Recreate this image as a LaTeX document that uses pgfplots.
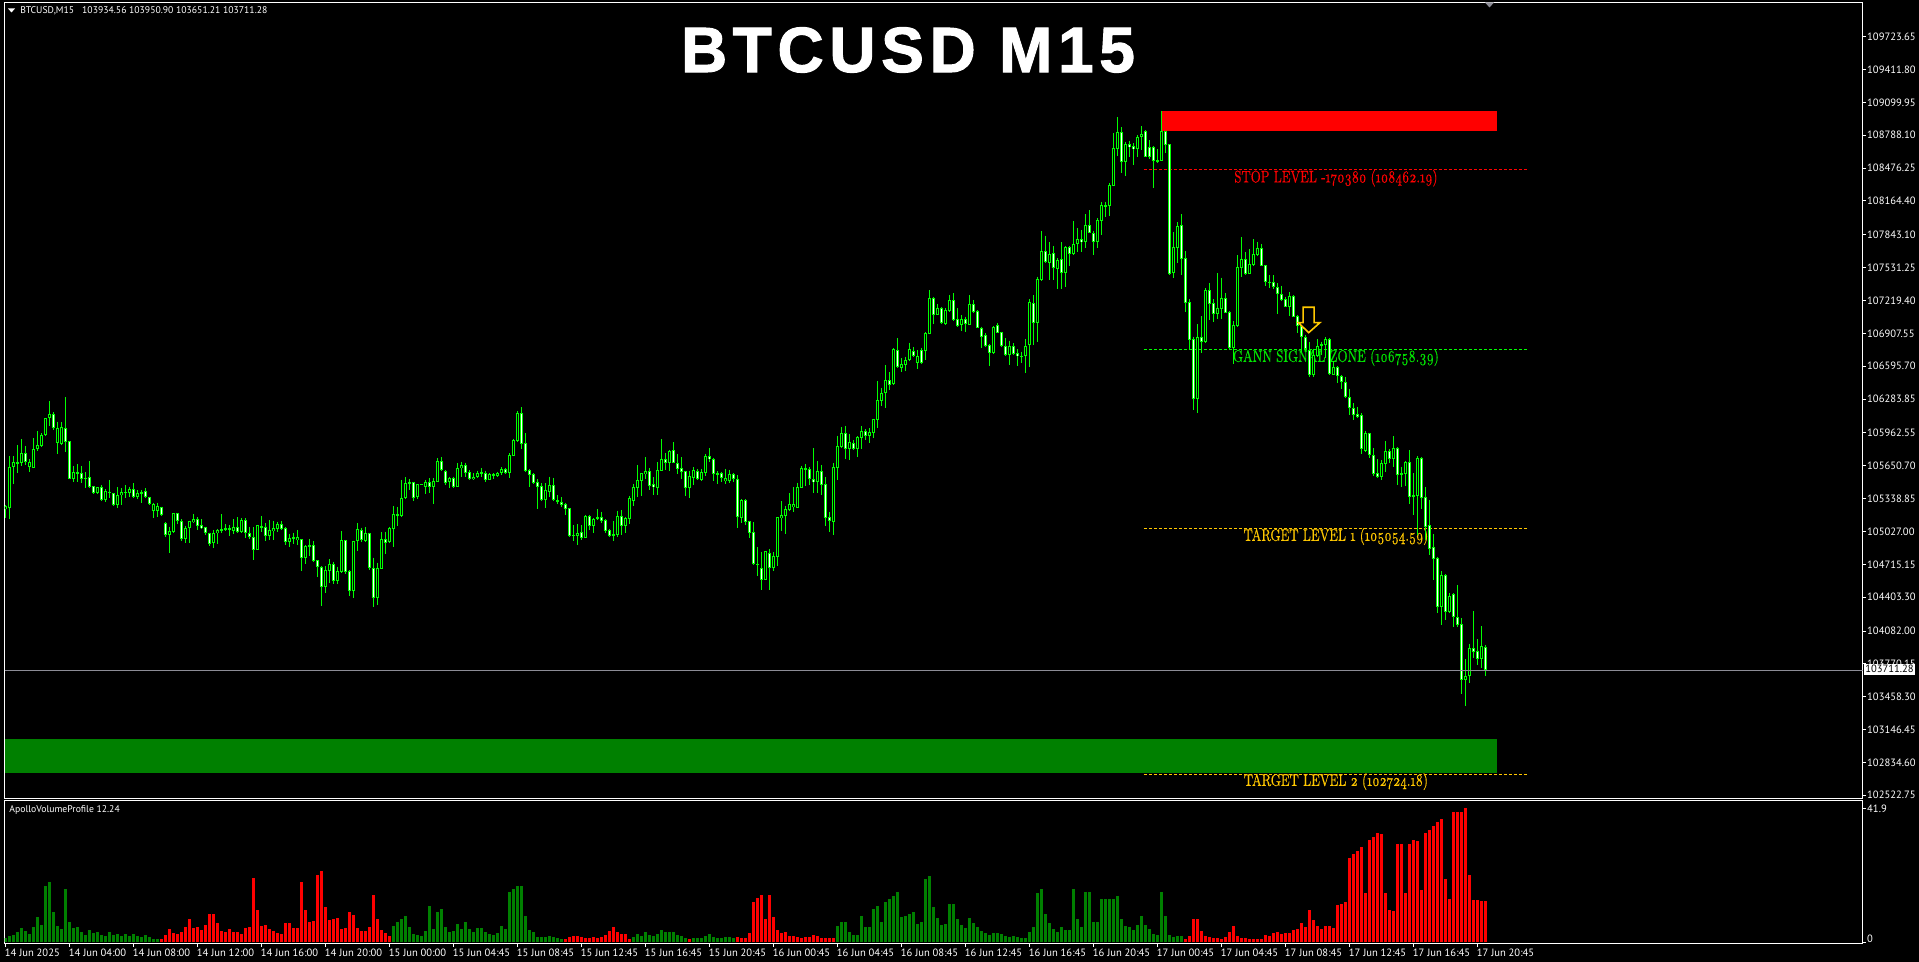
\documentclass[border=0pt]{standalone}
\usepackage{pgfplots}
\usepackage{pgfplotstable}
\usepackage{fontspec}
\pgfplotsset{compat=1.18}
\setmainfont{PT Sans}
\newfontfamily\titlefont[LetterSpace=8.8,FakeBold=1.6]{Liberation Sans Bold}
\newfontfamily\levelfont[Numbers=OldStyle,FakeStretch=0.72,FakeBold=0.3]{Latin Modern Roman}
\definecolor{candle}{HTML}{00FF00}
\definecolor{gold}{HTML}{FFC800}
\definecolor{volgreen}{HTML}{008000}
\definecolor{lastline}{HTML}{8C8C96}

% one image pixel is 0.5pt, y counted from the top of the page
\newcommand{\px}[2]{({(#1)*0.5pt},{(962-(#2))*0.5pt})}

\pgfplotstableread{
i o h l c
0 105241 105278 105158 105269
1 105247 105744 105146 105642
2 105642 105744 105481 105690
3 105674 105848 105585 105690
4 105674 105902 105649 105769
5 105769 105839 105658 105690
6 105636 105712 105595 105690
7 105633 105911 105633 105807
8 105807 105981 105794 105845
9 105842 105959 105832 105943
10 105940 106101 105937 106101
11 106101 106263 106028 106139
12 106139 106158 105990 106013
13 105864 106069 105763 106013
14 105858 106063 105848 106016
15 106006 106300 105785 105880
16 105883 105883 105522 105528
17 105528 105649 105500 105589
18 105573 105668 105500 105589
19 105579 105649 105490 105528
20 105528 105589 105443 105538
21 105541 105693 105437 105452
22 105456 105456 105383 105389
23 105389 105452 105383 105446
24 105446 105465 105320 105326
25 105326 105430 105307 105411
26 105405 105516 105342 105389
27 105389 105389 105269 105282
28 105282 105446 105250 105370
29 105370 105437 105278 105399
30 105396 105465 105342 105399
31 105396 105452 105358 105427
32 105427 105484 105342 105351
33 105358 105421 105332 105389
34 105386 105421 105301 105405
35 105408 105437 105342 105351
36 105351 105358 105278 105288
37 105225 105301 105158 105288
38 105225 105301 105168 105269
39 105263 105263 105177 105180
40 105111 105114 104978 104997
41 104997 105073 104826 105029
42 105025 105199 105016 105199
43 105199 105199 105098 105130
44 105130 105142 104940 104959
45 104959 105079 104921 105057
46 105057 105130 104921 105123
47 105120 105193 105104 105142
48 105142 105161 105041 105082
49 105085 105142 105054 105060
50 105067 105073 104997 105010
51 105010 105016 104892 104908
52 104915 105041 104873 105010
53 105010 105051 104908 105038
54 105035 105190 105010 105051
55 105044 105095 105035 105057
56 105057 105089 104984 105038
57 105035 105142 105003 105067
58 105067 105161 105010 105022
59 105025 105152 105016 105133
60 105133 105152 104968 105016
61 105016 105073 104959 104972
62 104972 105067 104756 104851
63 104851 105089 104851 105085
64 105067 105174 105022 105079
65 105067 105104 104937 104984
66 104984 105136 104946 105038
67 105035 105127 104946 105057
68 105054 105120 105025 105098
69 105098 105127 105041 105051
70 105060 105067 104899 104930
71 104930 105003 104883 104962
72 104972 105016 104908 104953
73 104946 105041 104899 104972
74 104953 104953 104655 104779
75 104779 104899 104718 104889
76 104883 104956 104794 104899
77 104896 104937 104741 104750
78 104753 104756 104592 104687
79 104687 104699 104320 104503
80 104503 104699 104446 104662
81 104655 104763 104541 104715
82 104715 104741 104529 104560
83 104560 104693 104529 104649
84 104646 105029 104636 104943
85 104943 104946 104624 104646
86 104649 104662 104415 104465
87 104465 104940 104396 104934
88 104934 105104 104842 105048
89 105041 105063 104927 104946
90 104940 105070 104930 105010
91 105010 105016 104662 104677
92 104684 104779 104313 104399
93 104399 104731 104329 104677
94 104674 105022 104668 104953
95 104953 105025 104813 104915
96 104930 105073 104921 105057
97 105054 105269 104877 105190
98 105190 105263 105079 105177
99 105174 105516 105168 105348
100 105348 105541 105332 105484
101 105484 105522 105421 105494
102 105494 105500 105320 105345
103 105351 105475 105332 105475
104 105475 105475 105472 105472
105 105452 105516 105383 105497
106 105500 105532 105389 105452
107 105452 105532 105288 105503
108 105500 105721 105497 105693
109 105693 105734 105604 105611
110 105604 105611 105468 105484
111 105500 105547 105443 105532
112 105532 105547 105443 105452
113 105452 105674 105452 105627
114 105633 105690 105547 105655
115 105655 105680 105541 105579
116 105589 105611 105516 105525
117 105525 105579 105516 105547
118 105547 105604 105532 105579
119 105573 105627 105547 105589
120 105585 105604 105497 105516
121 105519 105579 105516 105570
122 105557 105579 105525 105570
123 105557 105592 105541 105579
124 105579 105636 105563 105617
125 105617 105627 105573 105582
126 105585 105769 105538 105750
127 105747 105908 105744 105892
128 105886 106171 105876 106152
129 106149 106206 105810 105858
130 105864 105959 105595 105604
131 105611 105617 105452 105566
132 105570 105579 105478 105490
133 105494 105522 105244 105452
134 105456 105484 105320 105326
135 105326 105484 105250 105418
136 105402 105547 105358 105465
137 105465 105535 105320 105326
138 105326 105373 105288 105310
139 105310 105351 105263 105282
140 105285 105301 105184 105244
141 105247 105250 104978 104984
142 104994 105085 104940 104987
143 104984 105098 104899 105016
144 105019 105085 104946 104968
145 104968 105184 104968 105174
146 105174 105184 105041 105082
147 105082 105152 105010 105142
148 105149 105237 105136 105161
149 105161 105215 105111 105127
150 105133 105142 105016 105035
151 105041 105048 104978 104987
152 104984 105127 104940 105003
153 104994 105225 104978 105174
154 105174 105231 104994 105082
155 105082 105168 105010 105152
156 105149 105364 105098 105342
157 105320 105478 105269 105446
158 105443 105658 105358 105516
159 105509 105579 105364 105579
160 105576 105731 105525 105598
161 105598 105630 105421 105462
162 105475 105541 105373 105446
163 105443 105684 105373 105608
164 105604 105902 105604 105712
165 105712 105769 105611 105674
166 105674 105801 105601 105791
167 105797 105876 105674 105680
168 105674 105763 105573 105623
169 105627 105731 105525 105595
170 105598 105604 105364 105443
171 105443 105601 105345 105551
172 105538 105636 105468 105608
173 105598 105620 105516 105522
174 105519 105620 105503 105589
175 105585 105763 105554 105740
176 105740 105816 105687 105718
177 105721 105728 105503 105576
178 105579 105598 105478 105576
179 105579 105595 105500 105538
180 105509 105620 105478 105532
181 105509 105611 105490 105570
182 105570 105582 105500 105522
183 105522 105560 105060 105168
184 105158 105332 105104 105323
185 105323 105335 105089 105120
186 105123 105123 104965 105016
187 105019 105114 104709 104722
188 104718 104877 104605 104715
189 104677 104835 104472 104570
190 104570 104839 104567 104839
191 104826 104861 104472 104684
192 104684 104829 104652 104791
193 104788 105165 104699 105161
194 105158 105316 105032 105180
195 105177 105269 105003 105237
196 105234 105392 105221 105285
197 105263 105449 105212 105285
198 105253 105490 105247 105449
199 105443 105649 105443 105627
200 105614 105668 105459 105630
201 105620 105636 105471 105528
202 105528 105816 105392 105494
203 105500 105696 105392 105598
204 105598 105658 105373 105471
205 105475 105544 105079 105158
206 105161 105212 105022 105130
207 105120 105677 104994 105636
208 105633 105937 105516 105835
209 105832 106019 105823 105959
210 105959 106028 105715 105807
211 105810 105952 105706 105873
212 105864 105895 105801 105813
213 105813 105933 105734 105921
214 105918 106028 105810 105978
215 105978 105997 105895 105937
216 105937 106009 105870 105968
217 105965 106098 105914 106092
218 106089 106456 106009 106272
219 106269 106389 106215 106338
220 106338 106607 106199 106462
221 106462 106538 106370 106417
222 106424 106765 106417 106756
223 106753 106863 106576 106585
224 106582 106670 106538 106614
225 106610 106686 106553 106652
226 106652 106819 106642 106756
227 106743 106775 106686 106693
228 106629 106750 106572 106696
229 106746 106772 106617 106626
230 106740 106917 106655 106911
231 106905 107316 106905 107240
232 107240 107249 106996 107085
233 107085 107186 107079 107145
234 107145 107155 106996 107009
235 106996 107145 106987 107126
236 107123 107272 107113 107221
237 107221 107287 107028 107037
238 107040 107145 106971 106980
239 106987 107082 106933 107040
240 107040 107066 106920 106996
241 106987 107268 106984 107183
242 107183 107224 107104 107113
243 107117 107129 106955 106962
244 106962 106971 106765 106876
245 106889 106908 106781 106788
246 106794 106803 106601 106724
247 106724 106977 106712 106971
248 106984 107003 106908 106914
249 106917 106924 106775 106791
250 106791 106863 106692 106705
251 106702 106838 106607 106784
252 106784 106813 106699 106715
253 106718 106756 106598 106689
254 106693 106734 106623 106690
255 106689 106854 106534 106791
256 106797 107230 106591 107205
257 107192 107271 106797 107009
258 107003 107446 106829 107420
259 107414 107879 107408 107686
260 107686 107835 107572 107582
261 107579 107772 107414 107661
262 107667 107737 107414 107525
263 107518 107620 107332 107607
264 107610 107772 107332 107484
265 107484 107737 107351 107724
266 107724 107737 107550 107658
267 107661 107974 107651 107753
268 107756 107904 107683 107800
269 107800 107889 107683 107778
270 107778 108037 107718 107933
271 107933 108075 107857 107863
272 107863 107882 107651 107778
273 107778 107999 107715 107980
274 107977 108158 107841 108123
275 108123 108158 108015 108120
276 108120 108338 108021 108316
277 108309 108806 108306 108664
278 108661 108958 108591 108816
279 108816 108863 108433 108537
280 108537 108727 108401 108702
281 108702 108737 108585 108680
282 108683 108711 108506 108658
283 108661 108790 108578 108775
284 108775 108873 108648 108797
285 108825 108838 108578 108585
286 108673 108743 108559 108585
287 108673 108686 108290 108547
288 108550 108654 108528 108544
289 108547 109018 108547 108825
290 108825 108831 108623 108699
291 108702 108702 107462 107468
292 107480 107866 107436 107727
293 107721 107961 107572 107927
294 107933 108037 107461 107616
295 107620 107686 107113 107199
296 107202 107230 106749 106848
297 106851 106876 106180 106288
298 106288 106996 106155 106870
299 106870 107072 106724 106829
300 106829 107335 106813 107319
301 107319 107386 107034 107189
302 107192 107230 107018 107091
303 107091 107480 107041 107145
304 107136 107436 107044 107240
305 107240 107287 107098 107104
306 107110 107117 106756 106769
307 106769 107025 106617 106984
308 106980 107651 106971 107534
309 107531 107822 107446 107610
310 107610 107677 107465 107474
311 107474 107705 107471 107563
312 107560 107800 107550 107658
313 107654 107778 107645 107715
314 107715 107756 107544 107550
315 107553 107556 107357 107398
316 107398 107461 107341 107386
317 107392 107461 107332 107344
318 107344 107382 107091 107284
319 107284 107360 107218 107227
320 107237 107256 107155 107161
321 107155 107297 107072 107259
322 107259 107272 107060 107066
323 107069 107082 106908 106980
324 106980 106996 106734 106876
325 106876 106892 106743 106762
326 106753 106825 106496 106512
327 106512 106762 106496 106702
328 106696 106851 106686 106791
329 106794 106828 106702 106806
330 106800 106870 106670 106851
331 106854 106860 106512 106519
332 106515 106648 106509 106591
333 106591 106598 106433 106506
334 106506 106512 106382 106449
335 106449 106496 106290 106300
336 106300 106376 106132 106196
337 106196 106243 106085 106133
338 106142 106212 106101 106117
339 106129 106148 105762 105807
340 105794 105981 105784 105958
341 105958 105965 105727 105750
342 105750 105816 105557 105576
343 105579 105712 105535 105541
344 105547 105705 105516 105674
345 105664 105883 105595 105788
346 105788 105807 105674 105718
347 105718 105933 105642 105816
348 105816 105826 105468 105566
349 105579 105642 105452 105569
350 105572 105696 105459 105683
351 105683 105800 105288 105357
352 105370 105579 105183 105367
353 105367 105743 104993 105721
354 105721 105731 105237 105348
355 105351 105446 104946 105073
356 105085 105326 104804 104864
357 104876 105000 104566 104769
358 104772 104788 104256 104313
359 104313 104652 104139 104611
360 104611 104623 104187 104266
361 104266 104443 104256 104411
362 104433 104440 104123 104218
363 104212 104519 104117 104142
364 104149 104202 103484 103620
365 103620 103816 103373 103661
366 103658 103959 103592 103918
367 103918 104272 103823 103886
368 103889 104006 103759 103820
369 103820 104129 103728 103937
370 103934.56 103950.90 103651.21 103711.28
}\candles

\pgfplotsset{
  mtpanel/.style={
    scale only axis,
    anchor=south west,
    width=929pt,
    xmin=-0.25, xmax=464.25,
    axis line style={white,line width=0.5pt},
    tick style={white,line width=0.5pt},
    major tick length=1.75pt,
    tick align=outside,
    xtick pos=bottom,
    ytick pos=right,
    yticklabel pos=right,
    no markers,
    unbounded coords=discard,
    ticklabel style={text=white,font=\fontsize{5.3}{6}\selectfont,inner sep=0pt},
    yticklabel style={anchor=west,xshift=0.4pt},
    y tick label style={/pgf/number format/fixed},
    scaled ticks=false,
  },
  wick/.style={draw=none,forget plot,
    error bars/.cd,y dir=minus,y explicit,error mark=none,
    error bar style={solid,draw=candle,line width=0.5pt,line cap=butt}},
  bodybar/.style={draw=none,forget plot,
    error bars/.cd,y dir=both,y explicit,error mark=none,
    error bar style={solid,draw=#1,line width=1.5pt,line cap=butt}},
  innerbar/.style={draw=none,forget plot,
    error bars/.cd,y dir=both,y explicit,error mark=none,
    error bar style={solid,draw=#1,line width=0.5pt,line cap=butt}},
  level/.style={draw=#1,line width=0.5pt,dash pattern=on 1.5pt off 1pt,forget plot},
}

\begin{document}
\begin{tikzpicture}
\fill[black] (0,0) rectangle (959.5pt,481pt);

% price panel
\begin{axis}[
    mtpanel,
    name=main,
    at={(2.25pt,81.75pt)},
    height=398pt,
    ymin=102492.4, ymax=110048,
    xtick=\empty,
    ytick={109723.65,109411.80,109099.95,108788.10,108476.25,108164.40,107843.10,107531.25,107219.40,106907.55,106595.70,106283.85,105962.55,105650.70,105338.85,105027.00,104715.15,104403.30,104082.00,103770.15,103458.30,103146.45,102834.60,102522.75},
    yticklabels={109723.65,109411.80,109099.95,108788.10,108476.25,108164.40,107843.10,107531.25,107219.40,106907.55,106595.70,106283.85,105962.55,105650.70,105338.85,105027.00,104715.15,104403.30,104082.00,103770.15,103458.30,103146.45,102834.60,102522.75},
]
% level lines and zones sit behind the candles
\addplot[level=red] coordinates {(284.6,108462.19)(380.3,108462.19)};
\addplot[level=candle] coordinates {(284.6,106758.39)(380.3,106758.39)};
\addplot[level=gold] coordinates {(284.6,105054.59)(380.3,105054.59)};
\addplot[level=gold] coordinates {(284.6,102724.18)(380.3,102724.18)};
\addplot[fill=red,draw=none,forget plot] coordinates {(289.2,109018)(372.9,109018)(372.9,108828)(289.2,108828)} -- cycle;
\addplot[fill=volgreen,draw=none,forget plot] coordinates {(-0.25,103057)(372.9,103057)(372.9,102734)(-0.25,102734)} -- cycle;

\node[text=red,font=\levelfont\fontsize{8.4}{9}\selectfont] at (axis cs:332.6,108380) {STOP LEVEL -170380 (108462.19)};
\node[text=candle!90!black,font=\levelfont\fontsize{8.4}{9}\selectfont] at (axis cs:332.6,106677) {GANN SIGNAL ZONE (106758.39)};
\node[text=gold,font=\levelfont\fontsize{8.4}{9}\selectfont] at (axis cs:332.6,104978) {TARGET LEVEL 1 (105054.59)};
\node[text=gold,font=\levelfont\fontsize{8.4}{9}\selectfont] at (axis cs:332.6,102652) {TARGET LEVEL 2 (102724.18)};

% candles: wick, outline, then the inside of each body
\addplot[wick] table[x=i,y=h,y error minus expr=\thisrow{h}-\thisrow{l}] {\candles};
\addplot[bodybar=candle] table[x=i,
    y expr=(\thisrow{o}+\thisrow{c})/2,
    y error expr={max(abs(\thisrow{o}-\thisrow{c})/2,4.75)}] {\candles};
\addplot[innerbar=black] table[x=i,
    y expr={\thisrow{c}>\thisrow{o} ? (\thisrow{o}+\thisrow{c})/2 : nan},
    y error expr={max(abs(\thisrow{o}-\thisrow{c})/2-9.5,0)}] {\candles};
\addplot[innerbar=white] table[x=i,
    y expr={\thisrow{c}>\thisrow{o} ? nan : (\thisrow{o}+\thisrow{c})/2},
    y error expr={max(abs(\thisrow{o}-\thisrow{c})/2-9.5,0)}] {\candles};

% signal arrow
\addplot[draw=gold,fill=black,line width=0.8pt,forget plot] coordinates {
    (324.4,107155)(327.15,107155)(327.15,107009)(328.6,107009)(325.8,106914)(323.2,107009)(324.4,107009)} -- cycle;

% last price line
\addplot[draw=lastline,line width=0.5pt,forget plot] coordinates {(-0.25,103711.28)(464.25,103711.28)};
\end{axis}

% volume panel
\begin{axis}[
    mtpanel,
    name=vol,
    at={(2.25pt,9.25pt)},
    height=71.5pt,
    ymin=-0.31, ymax=44.39,
    xtick={0,16,32,48,64,80,96,112,128,144,160,176,192,208,224,240,256,272,288,304,320,336,352,368},
    xticklabels={14 Jun 2025,14 Jun 04:00,14 Jun 08:00,14 Jun 12:00,14 Jun 16:00,14 Jun 20:00,15 Jun 00:00,15 Jun 04:45,15 Jun 08:45,15 Jun 12:45,15 Jun 16:45,15 Jun 20:45,16 Jun 00:45,16 Jun 04:45,16 Jun 08:45,16 Jun 12:45,16 Jun 16:45,16 Jun 20:45,17 Jun 00:45,17 Jun 04:45,17 Jun 08:45,17 Jun 12:45,17 Jun 16:45,17 Jun 20:45},
    xticklabel style={anchor=north west,xshift=-0.5pt,yshift=-0.7pt},
    ytick={0,41.9},
    yticklabels={\raisebox{4pt}{0},41.9},
]
\addplot[ycomb,color=volgreen,line width=1.5pt,forget plot] coordinates {
(0,1.46)(1,1.98)(2,2.29)(3,3.23)(4,4.48)(5,3.54)(6,2.61)(7,4.79)(8,7.92)(9,5.42)(10,17.61)(11,18.86)(12,9.48)(13,5.11)(14,4.17)(15,16.67)(16,6.36)(17,4.48)(18,4.79)(19,3.23)(20,2.29)(21,3.86)(22,2.92)(23,3.23)(24,2.29)(25,1.98)(26,3.23)(27,2.29)(28,2.61)(29,1.98)(30,2.61)(31,1.98)(32,2.61)(33,2.08)(34,1.77)(35,2.29)(36,1.67)(37,1.04)(38,1.04)
(97,5.11)(98,6.36)(99,7.29)(100,8.23)(101,4.79)(102,2.61)(103,2.29)(104,1.98)(105,3.54)(106,11.36)(107,4.17)(108,9.48)(109,10.42)(110,4.79)(111,3.23)(112,3.54)(113,5.73)(114,4.17)(115,6.36)(116,4.17)(117,3.23)(118,4.48)(119,4.48)(120,3.23)(121,2.61)(122,2.29)(123,2.92)(124,5.11)(125,4.17)(126,15.73)(127,16.67)(128,17.61)(129,17.61)(130,8.23)(131,3.86)(132,3.23)(133,1.67)(134,1.67)(135,1.67)(136,1.98)(137,1.67)(138,1.35)(139,1.04)
(157,1.67)(158,2.61)(159,1.98)(160,3.23)(161,2.29)(162,1.98)(163,2.61)(164,3.86)(165,3.23)(166,3.23)(167,3.23)(168,2.29)(169,1.98)(170,1.35)
(172,1.35)(173,1.35)(174,1.35)(175,1.98)(176,2.61)(177,1.67)(178,1.35)(179,1.35)(180,1.67)(181,1.67)(182,1.35)
(208,5.11)(209,6.36)(210,6.36)(211,3.23)(212,2.29)(213,2.29)(214,8.23)(215,4.79)(216,4.79)(217,10.42)(218,11.36)(219,6.36)(220,12.61)(221,13.55)(222,14.48)(223,15.73)(224,7.92)(225,8.23)(226,8.86)(227,9.48)(228,5.73)(229,6.36)(230,19.80)(231,20.74)(232,11.05)(233,7.61)(234,5.42)(235,5.73)(236,11.98)(237,11.98)(238,7.29)(239,5.42)(240,4.48)(241,7.61)(242,6.04)(243,4.79)(244,3.54)(245,2.92)(246,2.29)(247,2.92)(248,2.92)(249,2.61)(250,1.98)(251,1.67)(252,1.98)(253,1.67)(254,1.35)(255,1.35)(256,3.23)(257,4.79)(258,15.42)(259,16.67)(260,8.86)(261,6.04)(262,4.17)(263,3.23)(264,4.79)(265,3.86)(266,3.86)(267,16.67)(268,7.29)(269,4.79)(270,15.73)(271,15.73)(272,6.36)(273,6.36)(274,13.55)(275,13.55)(276,13.55)(277,13.55)(278,14.48)(279,7.29)(280,5.11)(281,4.79)(282,3.86)(283,5.42)(284,8.23)(285,5.42)(286,4.17)(287,2.61)(288,2.29)(289,15.73)(290,8.23)(291,2.29)(292,1.67)(293,1.98)(294,1.98)
};
\addplot[ycomb,color=red,line width=1.5pt,forget plot] coordinates {
(39,1.04)(40,2.29)(41,4.17)(42,2.92)(43,2.61)(44,3.23)(45,4.79)(46,7.29)(47,4.48)(48,4.79)(49,3.86)(50,5.42)(51,8.86)(52,8.86)(53,6.04)(54,3.54)(55,3.23)(56,4.17)(57,3.23)(58,3.23)(59,2.61)(60,4.48)(61,4.79)(62,20.11)(63,10.11)(64,5.11)(65,5.42)(66,4.17)(67,3.54)(68,2.92)(69,2.61)(70,6.04)(71,6.04)(72,4.48)(73,4.48)(74,18.86)(75,10.11)(76,6.36)(77,6.67)(78,21.05)(79,22.30)(80,11.05)(81,6.98)(82,7.29)(83,7.61)(84,4.17)(85,4.48)(86,9.48)(87,8.54)(88,4.48)(89,3.54)(90,3.54)(91,4.79)(92,14.80)(93,7.29)(94,3.86)(95,2.92)(96,1.98)
(140,1.04)(141,1.67)(142,1.98)(143,1.98)(144,1.67)(145,1.35)(146,1.35)(147,1.67)(148,1.35)(149,1.67)(150,2.29)(151,3.54)(152,4.79)(153,3.23)(154,2.61)(155,2.61)(156,1.04)
(171,1.04)
(183,1.67)(184,1.35)(185,1.35)(186,2.92)(187,12.61)(188,13.86)(189,14.80)(190,7.29)(191,14.80)(192,7.92)(193,3.86)(194,2.92)(195,3.23)(196,1.98)(197,1.98)(198,1.67)(199,1.35)(200,1.67)(201,1.67)(202,2.29)(203,1.98)(204,1.35)(205,1.35)(206,1.35)(207,1.35)
(295,1.04)(296,1.98)(297,7.29)(298,7.29)(299,3.54)(300,1.98)(301,1.67)(302,1.35)(303,1.35)(304,1.04)(305,1.67)(306,3.23)(307,5.11)(308,1.98)(309,1.35)(310,1.35)(311,1.04)(312,1.04)(313,1.04)(314,1.04)(315,2.29)(316,1.98)(317,2.92)(318,3.23)(319,2.61)(320,2.92)(321,2.92)(322,3.86)(323,4.17)(324,6.04)(325,4.79)(326,10.11)(327,6.98)(328,5.11)(329,4.17)(330,5.11)(331,5.11)(332,4.48)(333,11.67)(334,11.98)(335,12.61)(336,26.36)(337,27.61)(338,28.55)(339,29.80)(340,15.42)(341,31.99)(342,32.93)(343,34.18)(344,33.87)(345,15.42)(346,10.11)(347,9.79)(348,30.74)(349,30.74)(350,15.42)(351,30.74)(352,31.99)(353,31.68)(354,16.36)(355,34.18)(356,35.12)(357,36.37)(358,37.62)(359,38.55)(360,19.80)(361,13.55)(362,40.74)(363,40.74)(364,40.74)(365,41.9)(366,21.05)(367,13.23)(368,13.23)(369,12.92)(370,12.92)
};
\end{axis}

% window furniture
\node[text=white,font=\titlefont\fontsize{32}{34}\selectfont,anchor=center] at \px{908}{50} {BTCUSD M15};
\fill[white] \px{8}{8.5} -- \px{15}{8.5} -- \px{11.5}{12.5} -- cycle;
\node[text=white,font=\fontsize{4.85}{6}\selectfont,anchor=west,inner sep=0pt] at \px{20}{10.5} {BTCUSD,M15\hspace{4pt}103934.56 103950.90 103651.21 103711.28};
\fill[lastline] \px{1485}{2.5} -- \px{1494}{2.5} -- \px{1489.5}{7.5} -- cycle;
\node[text=white,font=\fontsize{4.85}{6}\selectfont,anchor=west,inner sep=0pt] at \px{9}{810} {ApolloVolumeProfile 12.24};
\node[fill=white,text=black,font=\fontsize{5.3}{6}\selectfont,anchor=center,inner sep=0pt,minimum width=25.5pt,minimum height=5.5pt] at \px{1889.5}{669.3} {103711.28};
\end{tikzpicture}
\end{document}
